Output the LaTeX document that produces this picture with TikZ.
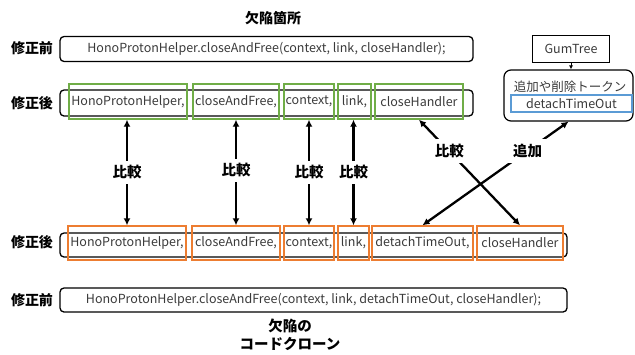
\documentclass[tikz,border=0pt]{standalone}
\usepackage{fontspec}
\setmainfont{Noto Sans CJK JP}
\usetikzlibrary{arrows.meta}
\definecolor{gr}{HTML}{70AD47}
\definecolor{og}{HTML}{ED7D31}
\definecolor{bl}{HTML}{5B9BD5}
\definecolor{tx}{HTML}{3A3A3A}
\tikzset{
  codefont/.style={font=\fontsize{12.5}{14}\selectfont, text=tx},
  rowbox/.style={draw=black, line width=1.3pt, rounded corners=4pt, minimum height=25pt, inner sep=0pt, codefont},
  gbox/.style={draw=gr, line width=1.4pt, minimum height=35pt, inner sep=0pt, codefont},
  obox/.style={draw=og, line width=1.4pt, minimum height=34pt, inner sep=0pt, codefont},
  bbox/.style={draw=bl, line width=1.5pt, minimum height=17pt, inner sep=0pt, codefont},
  plainbox/.style={draw=black, line width=0.9pt, inner sep=0pt, codefont},
  rowlbl/.style={font=\bfseries\fontsize{14}{16}\selectfont},
  cmp/.style={fill=white, inner sep=5pt, font=\bfseries\fontsize{14.5}{16}\selectfont},
  dbl/.style={{Latex[length=7pt,width=7pt]}-{Latex[length=7pt,width=7pt]}, line width=2.3pt},
  small/.style={-{Latex[length=4pt,width=4pt]}, line width=1pt}
}
\begin{document}
\begin{tikzpicture}[x=1pt,y=-1pt]
\useasboundingbox (0,0) rectangle (635,354);
% title
\node[rowlbl] (title) at (273,18) {欠陥箇所};
% row 1
\node[rowlbl] (l1) at (32,48) {修正前};
\node[rowbox, minimum width=413pt] (r1) at (266.5,49) {HonoProtonHelper.closeAndFree(context, link, closeHandler);};
% row 2
\node[rowlbl] (l2) at (32,103) {修正後};
\node[rowbox, minimum width=413pt, minimum height=26pt] (r2) at (266.5,103) {};
\node[gbox, minimum width=118pt] (g1) at (128,101.5) {HonoProtonHelper,};
\node[gbox, minimum width=86pt] (g2) at (236,101.5) {closeAndFree,};
\node[gbox, minimum width=50pt] (g3) at (309,101.5) {context,};
\node[gbox, minimum width=33pt] (g4) at (354.5,101.5) {link,};
\node[gbox, minimum width=88pt] (g5) at (419,101.5) {closeHandler};
% GumTree
\node[plainbox, minimum width=77pt, minimum height=27pt] (gt) at (571,48.5) {GumTree};
\node[draw=black, line width=1.2pt, rounded corners=7pt, minimum width=129pt, minimum height=51pt] (rb) at (568.5,95.5) {};
\node[codefont] (add) at (570,86.5) {追加や削除トークン};
\node[bbox, minimum width=121pt] (dt) at (571.5,103.5) {detachTimeOut};
\draw[small] (gt.south) -- (gt.south |- rb.north);
% row 3
\node[rowlbl] (l3) at (32,242) {修正後};
\node[rowbox, minimum width=507pt, minimum height=24pt] (r3) at (313.5,245) {};
\node[obox, minimum width=118pt] (o1) at (127,243) {HonoProtonHelper,};
\node[obox, minimum width=88pt] (o2) at (236,243) {closeAndFree,};
\node[obox, minimum width=50pt] (o3) at (309,243) {context,};
\node[obox, minimum width=31pt] (o4) at (353.5,243) {link,};
\node[obox, minimum width=101pt] (o5) at (422.5,243) {detachTimeOut,};
\node[obox, minimum width=86pt] (o6) at (520,243) {closeHandler};
% row 4
\node[rowlbl] (l4) at (32,300) {修正前};
\node[rowbox, minimum width=507pt, minimum height=24pt] (r4) at (313.5,300) {HonoProtonHelper.closeAndFree(context, link, detachTimeOut, closeHandler);};
% bottom title
\node[rowlbl, align=center, font=\bfseries\fontsize{14.5}{18}\selectfont] (bt) at (290,335) {欠陥の\\コードクローン};
% arrows
\draw[dbl] (g1.south -| o1.north) -- node[cmp]{比較} (o1.north);
\draw[dbl] (g2.south) -- node[cmp, yshift=2pt]{比較} (o2.north);
\draw[dbl] (g3.south) -- node[cmp]{比較} (o3.north);
\draw[dbl] (g4.south -| o4.north) -- node[cmp]{比較} (o4.north);
\draw[dbl] (g5.south) -- node[cmp, pos=0.3]{比較} (o6.north);
\draw[dbl] (o5.north) -- node[cmp, pos=0.72]{追加} (rb.south);
\end{tikzpicture}
\end{document}
